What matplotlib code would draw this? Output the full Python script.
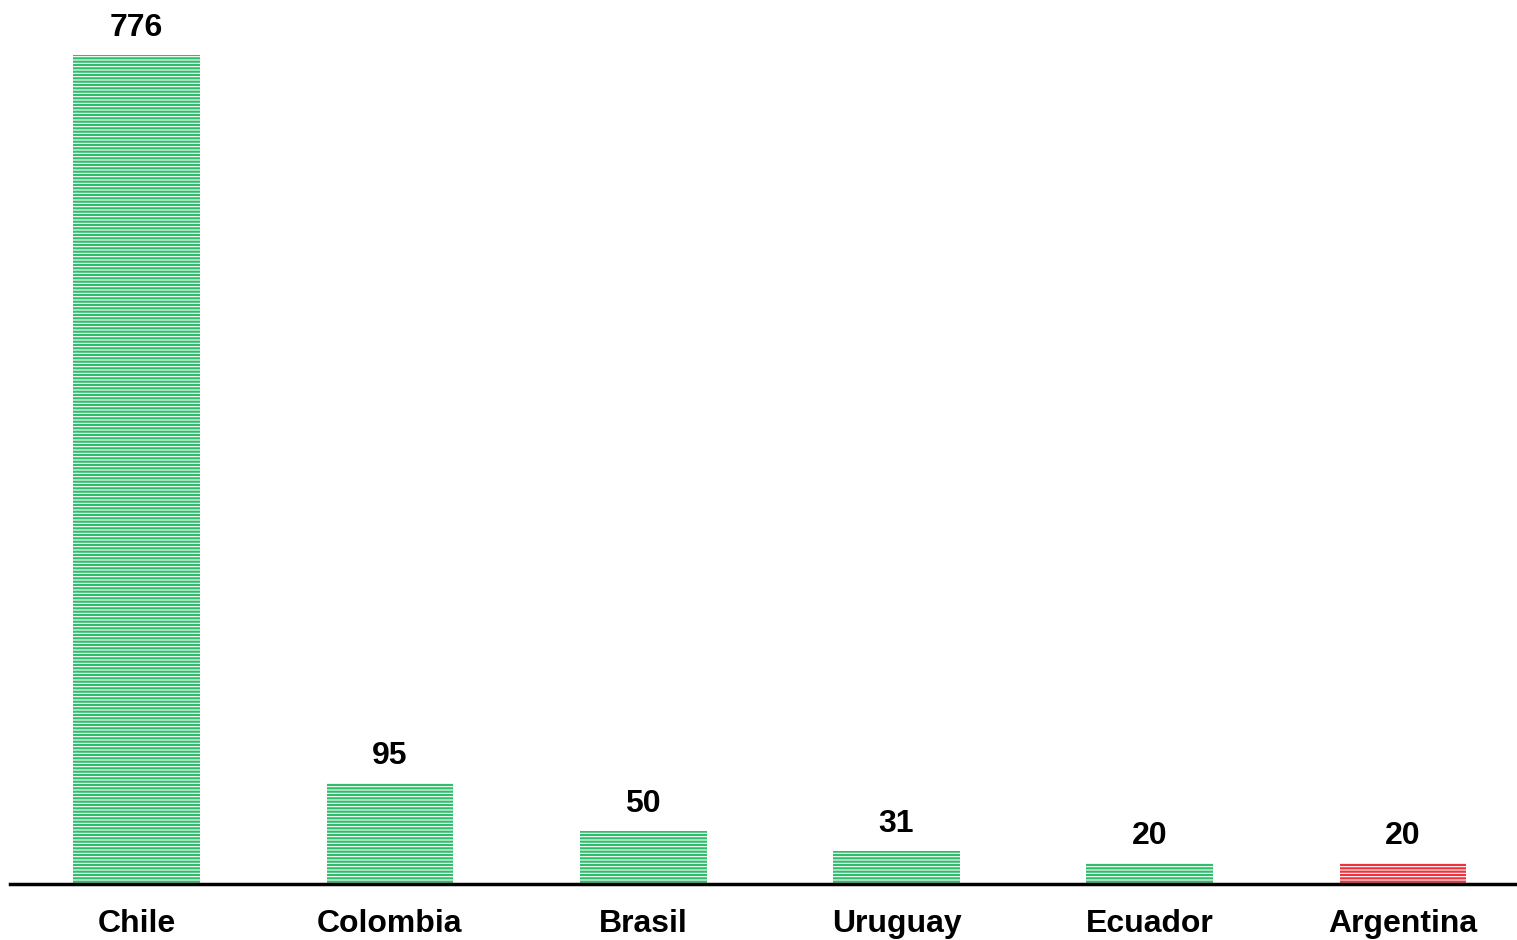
import matplotlib
matplotlib.use("Agg")
import matplotlib.pyplot as plt

categories = ["Chile", "Colombia", "Brasil", "Uruguay", "Ecuador", "Argentina"]
values = [776, 95, 50, 31, 20, 20]
colors = ["#2EBD6B", "#2EBD6B", "#2EBD6B", "#2EBD6B", "#2EBD6B", "#F0323C"]

plt.rcParams['font.family'] = ['Liberation Sans', 'DejaVu Sans']
plt.rcParams['hatch.linewidth'] = 1.6

W, H = 1517, 940
fig = plt.figure(figsize=(W/100, H/100), dpi=100)
ax = fig.add_axes([10/W, 56/H, 1 - 10/W, 1 - 56/H])

x = list(range(len(categories)))
for xi, v, c in zip(x, values, colors):
    ax.bar(xi, v, width=0.5, facecolor="white", edgecolor=c, hatch="-----", linewidth=0)
    ax.text(xi, v + 11, str(v), ha="center", va="bottom", fontsize=23, fontweight="bold")

ax.set_xlim(-0.5, 5.45)
ax.set_ylim(0, 884/1.068)
ax.set_xticks(x)
ax.set_xticklabels(categories, fontsize=23, fontweight="bold")
ax.tick_params(axis="x", length=0, pad=18)
ax.set_yticks([])
for s in ["top", "right", "left"]:
    ax.spines[s].set_visible(False)
ax.spines["bottom"].set_linewidth(2.5)
ax.spines["bottom"].set_color("black")

fig.savefig("out.png", dpi=100)
